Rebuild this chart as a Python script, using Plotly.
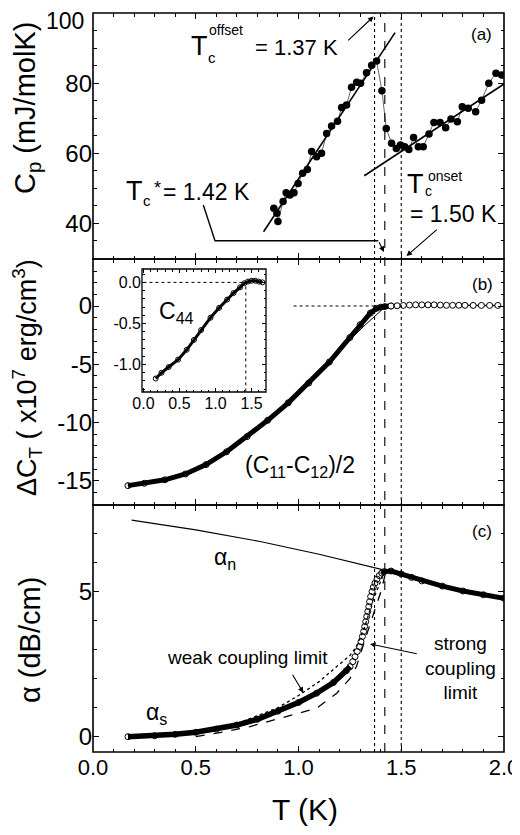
import numpy as np
import plotly.graph_objects as go

# ---------------- data ----------------
# (a) specific heat
CP_T = [0.88, 0.895, 0.90, 0.925, 0.94, 0.958, 0.978, 0.998, 1.02, 1.043, 1.064, 1.088, 1.112,
        1.137, 1.161, 1.19, 1.21, 1.234, 1.258, 1.283, 1.302, 1.331, 1.356, 1.38, 1.406, 1.427,
        1.453, 1.476, 1.496, 1.517, 1.537, 1.56, 1.583, 1.607, 1.635, 1.659, 1.689, 1.716, 1.742,
        1.773, 1.797, 1.826, 1.862, 1.891, 1.926, 1.961, 1.989]
CP_VAL = [44.3, 42.9, 40.5, 46.2, 48.7, 48.1, 48.7, 51.4, 54.3, 55.4, 60.5, 59.0, 60.0,
          65.7, 67.8, 69.2, 73.1, 73.8, 78.9, 80.3, 80.0, 83.0, 85.2, 86.4, 77.9, 67.1,
          62.9, 61.4, 62.4, 61.9, 61.1, 64.5, 61.9, 61.9, 65.5, 68.8, 68.8, 67.3, 69.8,
          69.0, 73.3, 72.9, 71.9, 75.2, 80.0, 82.9, 82.4]
FIT_SC_T = [0.83, 1.47]
FIT_SC_VAL = [37.6, 94.5]
FIT_N_T = [1.32, 2.0]
FIT_N_VAL = [53.6, 79.8]

# characteristic temperatures
TC_OFFSET = 1.37
TC_STAR = 1.42
TC_ONSET = 1.50

# (b) (C11-C12)/2
CT_T = [0.17, 0.25, 0.35, 0.45, 0.55, 0.65, 0.75, 0.85, 0.95, 1.05, 1.15, 1.25, 1.30, 1.35,
        1.38, 1.40, 1.42, 1.45]
CT_VAL = [-15.4, -15.2, -14.9, -14.4, -13.6, -12.5, -11.2, -9.8, -8.3, -6.6, -4.8, -2.7, -1.6,
          -0.6, -0.2, -0.1, -0.05, 0.0]
CT_FLAT_T = [1.45, 1.48, 1.51, 1.54, 1.57, 1.60, 1.63, 1.66, 1.69, 1.72, 1.75, 1.78, 1.81,
             1.85, 1.89, 1.93, 1.97]
CT_FLAT_VAL = [0.0, 0.02, 0.05, 0.08, 0.1, 0.1, 0.1, 0.1, 0.08, 0.06, 0.06, 0.06, 0.06,
               0.05, 0.05, 0.05, 0.05]
CT_THEORY_T = [1.15, 1.25, 1.324, 1.38, 1.405, 1.43, 1.47]
CT_THEORY_VAL = [-4.9, -2.9, -1.63, -0.77, -0.34, -0.05, 0.0]
CT_GUIDE_T = [0.976, 1.40]
CT_GUIDE_VAL = [0.0, 0.0]

# inset C44
C44_T = [0.17, 0.25, 0.35, 0.48, 0.6, 0.7, 0.8, 0.93, 1.05, 1.16, 1.25, 1.34, 1.40, 1.45,
         1.5, 1.55, 1.6, 1.65]
C44_VAL = [-1.17, -1.10, -1.03, -0.94, -0.82, -0.70, -0.58, -0.43, -0.31, -0.21, -0.13, -0.06,
           -0.01, 0.01, 0.02, 0.02, 0.01, 0.0]
C44_TC = 1.42

# (c) attenuation
AN_T = [0.188, 0.5, 0.813, 1.1, 1.413]
AN_VAL = [7.48, 7.14, 6.74, 6.3, 5.76]
AS_T = [0.17, 0.3, 0.4, 0.5, 0.6, 0.7, 0.8, 0.9, 1.0, 1.088, 1.17, 1.233,
        1.251, 1.264, 1.275, 1.286, 1.296, 1.304, 1.311, 1.317, 1.322, 1.327, 1.332, 1.337,
        1.342, 1.346, 1.351, 1.358, 1.364, 1.372, 1.382, 1.393, 1.405, 1.418,
        1.45, 1.5, 1.55, 1.6, 1.7, 1.8, 1.9, 2.0]
AS_VAL = [0.0, 0.03, 0.08, 0.15, 0.26, 0.4, 0.6, 0.88, 1.18, 1.5, 1.87, 2.28,
          2.42, 2.59, 2.76, 2.94, 3.11, 3.28, 3.46, 3.63, 3.80, 3.97, 4.15, 4.32,
          4.49, 4.66, 4.84, 5.01, 5.16, 5.30, 5.44, 5.56, 5.65, 5.70,
          5.72, 5.62, 5.5, 5.38, 5.2, 5.03, 4.9, 4.78]
WEAK_T = [0.3, 0.5, 0.7, 0.9, 1.0, 1.1, 1.186, 1.25, 1.282, 1.323, 1.363, 1.404, 1.42]
WEAK_VAL = [0.0, 0.12, 0.45, 1.0, 1.42, 1.9, 2.42, 2.8, 3.1, 3.8, 4.72, 5.41, 5.72]
STRONG_T = [0.5, 0.65, 0.764, 0.9, 1.0, 1.088, 1.186, 1.25, 1.282, 1.323, 1.372, 1.404, 1.425]
STRONG_VAL = [0.0, 0.18, 0.35, 0.6, 0.81, 0.98, 1.5, 2.0, 2.42, 3.34, 4.38, 5.07, 5.7]

X_TICKS = [0.0, 0.5, 1.0, 1.5, 2.0]
X_TICKTEXT = ["0.0", "0.5", "1.0", "1.5", "2.0"]
YA_TICKS = [40, 60, 80, 100]
YA_TICKTEXT = ["40", "60", "80", ""]   # "100" is placed separately just below the frame top
YA_TOP_LABEL = "100"
YB_TICKS = [-15, -10, -5, 0]
YB_TICKTEXT = ["-15", "-10", "-5", "0"]
YC_TICKS = [0, 5]
YC_TICKTEXT = ["0", "5"]

# ---------------- layout helpers ----------------
# the page body has an 8px margin, so the figure is drawn 8px smaller and
# all target positions below are given in page pixels
OFF = 8
W, H = 520 - OFF, 835 - OFF
L, R, T, B = 93 - OFF, 16, 13 - OFF, 83
PW, PH = W - L - R, H - T - B
FONT = "Liberation Sans, Arial, Helvetica, sans-serif"


def P(px, py):
    return (px - OFF - L) / PW, (H - B - (py - OFF)) / PH


fig = go.Figure()
blk = "black"

# (a)
fig.add_trace(go.Scatter(x=CP_T, y=CP_VAL, mode="lines+markers", xaxis="x", yaxis="y",
                         line=dict(color=blk, width=0.6),
                         marker=dict(symbol="circle", size=7.5, color=blk)))
fig.add_trace(go.Scatter(x=FIT_SC_T, y=FIT_SC_VAL, mode="lines", xaxis="x", yaxis="y",
                         line=dict(color=blk, width=1.6)))
fig.add_trace(go.Scatter(x=FIT_N_T, y=FIT_N_VAL, mode="lines", xaxis="x", yaxis="y",
                         line=dict(color=blk, width=1.6)))

# (b)
fig.add_trace(go.Scatter(x=CT_GUIDE_T, y=CT_GUIDE_VAL, mode="lines", xaxis="x2", yaxis="y2",
                         line=dict(color=blk, width=1.2, dash="dot")))
fig.add_trace(go.Scatter(x=CT_T, y=CT_VAL, mode="lines+markers", xaxis="x2", yaxis="y2",
                         line=dict(color=blk, width=5),
                         marker=dict(symbol="circle-open", size=6, color=blk)))
fig.add_trace(go.Scatter(x=CT_THEORY_T, y=CT_THEORY_VAL, mode="lines", xaxis="x2", yaxis="y2",
                         line=dict(color=blk, width=1)))
fig.add_trace(go.Scatter(x=CT_FLAT_T, y=CT_FLAT_VAL, mode="lines+markers", xaxis="x2", yaxis="y2",
                         line=dict(color=blk, width=1.5),
                         marker=dict(symbol="circle", size=6, color="white",
                                     line=dict(color=blk, width=1))))

# inset
fig.add_trace(go.Scatter(x=[0, C44_TC], y=[0, 0], mode="lines", xaxis="x4", yaxis="y4",
                         line=dict(color=blk, width=1, dash="dot")))
fig.add_trace(go.Scatter(x=[C44_TC, C44_TC], y=[-1.4, 0], mode="lines", xaxis="x4", yaxis="y4",
                         line=dict(color=blk, width=1, dash="dot")))
fig.add_trace(go.Scatter(x=C44_T, y=C44_VAL, mode="lines+markers", xaxis="x4", yaxis="y4",
                         line=dict(color=blk, width=3),
                         marker=dict(symbol="circle-open", size=5, color=blk)))

# (c)
AS_T_arr = np.array(AS_T)
AS_V_arr = np.array(AS_VAL)
low = AS_T_arr <= 1.26
high = AS_T_arr >= 1.405
fig.add_trace(go.Scatter(x=AN_T, y=AN_VAL, mode="lines", xaxis="x3", yaxis="y3",
                         line=dict(color=blk, width=1.2)))
fig.add_trace(go.Scatter(x=WEAK_T, y=WEAK_VAL, mode="lines", xaxis="x3", yaxis="y3",
                         line=dict(color=blk, width=1.3, dash="dot")))
fig.add_trace(go.Scatter(x=STRONG_T, y=STRONG_VAL, mode="lines", xaxis="x3", yaxis="y3",
                         line=dict(color=blk, width=1.3, dash="dash")))
fig.add_trace(go.Scatter(x=AS_T_arr[low], y=AS_V_arr[low], mode="lines", xaxis="x3", yaxis="y3",
                         line=dict(color=blk, width=5.5)))
fig.add_trace(go.Scatter(x=AS_T_arr[high], y=AS_V_arr[high], mode="lines", xaxis="x3", yaxis="y3",
                         line=dict(color=blk, width=5)))
fig.add_trace(go.Scatter(x=AS_T, y=AS_VAL, mode="markers", xaxis="x3", yaxis="y3",
                         marker=dict(symbol="circle-open", size=6, color=blk, line=dict(width=1))))

# vertical Tc lines through all panels
for tc, dash in [(TC_OFFSET, "dot"), (TC_STAR, "dash"), (TC_ONSET, "dot")]:
    fig.add_shape(type="line", xref="x", yref="paper", x0=tc, x1=tc, y0=0, y1=1,
                  line=dict(color=blk, width=1.1, dash=dash))

# axes (frames are drawn as shapes so adjacent panels share one line)
common = dict(showline=False, mirror="allticks", ticks="inside", ticklabeloverflow="allow",
              ticklen=6, tickwidth=1.2, tickcolor=blk, showgrid=False, zeroline=False)
xtickfont = dict(family=FONT, size=22, color=blk)
ytickfont = dict(family=FONT, size=24, color=blk)
xcommon = dict(common, range=[0, 2.0], tickvals=X_TICKS, ticktext=X_TICKTEXT,
               minor=dict(ticks="inside", dtick=0.1, ticklen=3.5, tickwidth=1, tickcolor=blk))
ya = P(0, 259)[1]
yb = P(0, 505)[1]
fig.update_layout(
    xaxis=dict(xcommon, anchor="y", showticklabels=False),
    xaxis2=dict(xcommon, anchor="y2", showticklabels=False, matches="x"),
    xaxis3=dict(xcommon, anchor="y3", showticklabels=True, matches="x", tickfont=xtickfont),
    yaxis=dict(common, domain=[ya, 1], anchor="x", range=[29.8, 100.1],
               tickvals=YA_TICKS, ticktext=YA_TICKTEXT, tickfont=ytickfont,
               minor=dict(ticks="inside", dtick=5, ticklen=3.5, tickwidth=1, tickcolor=blk)),
    yaxis2=dict(common, domain=[yb, ya], anchor="x2", range=[-17.06, 4.03],
                tickvals=YB_TICKS, ticktext=YB_TICKTEXT, tickfont=ytickfont,
                minor=dict(ticks="inside", dtick=1, ticklen=3.5, tickwidth=1, tickcolor=blk)),
    yaxis3=dict(common, domain=[0, yb], anchor="x3", range=[-0.53, 8.0],
                tickvals=YC_TICKS, ticktext=YC_TICKTEXT, tickfont=ytickfont,
                minor=dict(ticks="inside", dtick=1, ticklen=3.5, tickwidth=1, tickcolor=blk)),
)
ix0, iy1 = P(142, 269)
ix1, iy0 = P(266, 392)
inset_tf = dict(family=FONT, size=16, color=blk)
fig.update_layout(
    xaxis4=dict(common, domain=[ix0, ix1], anchor="y4", range=[-0.02, 1.7],
                tickvals=[0, 0.5, 1.0, 1.5], ticktext=["0.0", "0.5", "1.0", "1.5"],
                tickfont=inset_tf, ticklen=4,
                minor=dict(ticks="inside", dtick=0.1, ticklen=2.5, tickwidth=1, tickcolor=blk)),
    yaxis4=dict(common, domain=[iy0, iy1], anchor="x4", range=[-1.334, 0.163],
                tickvals=[-1.0, -0.5, 0.0], ticktext=["-1.0", "-0.5", "0.0"],
                tickfont=inset_tf, ticklen=4,
                minor=dict(ticks="inside", dtick=0.1, ticklen=2.5, tickwidth=1, tickcolor=blk)),
)
# inset background and frames
fig.add_shape(type="rect", xref="paper", yref="paper", x0=ix0, x1=ix1, y0=iy0, y1=iy1,
              fillcolor="white", line=dict(width=0), layer="below")
for (y0, y1) in [(ya, 1), (yb, ya), (0, yb)]:
    fig.add_shape(type="rect", xref="paper", yref="paper", x0=0, x1=1, y0=y0, y1=y1,
                  line=dict(color=blk, width=1.6))
fig.add_shape(type="rect", xref="paper", yref="paper", x0=ix0, x1=ix1, y0=iy0, y1=iy1,
              line=dict(color=blk, width=1.3))

annotations = []


def txt(text, px, py, size, xanchor="center", yanchor="middle", angle=0):
    x, y = P(px, py)
    annotations.append(dict(text=text, x=x, y=y, xref="paper", yref="paper",
                            xanchor=xanchor, yanchor=yanchor, showarrow=False,
                            borderpad=0, borderwidth=0,
                            textangle=angle, font=dict(family=FONT, size=size, color=blk)))


def base(text, px, baseline, size, xanchor="center"):
    # place text so that its baseline sits at pixel row `baseline`
    txt(text, px, baseline - 0.3465 * size, size, xanchor=xanchor)


def arrow(tail, tip):
    x, y = P(*tip)
    annotations.append(dict(text="", x=x, y=y, xref="paper", yref="paper",
                            ax=tail[0] - tip[0], ay=tail[1] - tip[1], showarrow=True,
                            arrowhead=2, arrowsize=1, arrowwidth=1.1, arrowcolor=blk))


# top tick label of panel (a), kept fully inside the page
txt(YA_TOP_LABEL, 84, 21, 23, xanchor="right")

# axis titles
txt("C<sub>p</sub> (mJ/molK)", 27, 108, 29, angle=-90)
txt("ΔC<sub>T</sub> ( x10<sup>7</sup> erg/cm<sup>3</sup>)", 27, 378, 27, angle=-90)
txt("α (dB/cm)", 30, 640, 29, angle=-90)
txt("T (K)", 305, 809, 30)

# panel (a) texts
base("T", 199.5, 55, 27)
base("c", 212, 63, 15)
base("offset", 209, 35, 14, xanchor="left")
base("= 1.37 K", 255, 55, 22, xanchor="left")

base("T", 134, 200, 27)
base("c", 146.5, 206, 15)
base("*", 157, 194, 18)
base("= 1.42 K", 163, 200, 23, xanchor="left")

base("T", 415.5, 193, 27)
base("c", 428.5, 196, 14)
base("onset", 428, 181, 14, xanchor="left")
base("= 1.50 K", 410, 222, 23, xanchor="left")
txt("(a)", 481, 34, 17)
arrow((346.7, 41.7), (373.5, 16.5))
arrow((438.3, 228.3), (406.5, 256))

# T_c* bracket line
p0, p1, p2 = P(203.3, 205), P(215, 240.7), P(378.3, 240.7)
fig.add_shape(type="path", xref="paper", yref="paper",
              path=f"M {p0[0]} {p0[1]} L {p1[0]} {p1[1]} L {p2[0]} {p2[1]}",
              line=dict(color=blk, width=1.4))
arrow((378.3, 240.7), (384, 252))

# panel (b) texts
txt("(b)", 482, 284, 17)
txt("(C<sub>11</sub>-C<sub>12</sub>)/2", 300, 466, 23)
txt("C<sub>44</sub>", 176, 312, 23)

# panel (c) texts
txt("(c)", 482, 531, 17)
txt("α<sub>n</sub>", 225, 558, 23)
txt("α<sub>s</sub>", 156, 713, 23)
txt("weak coupling limit", 167, 657, 19, xanchor="left")
txt("strong<br>coupling<br>limit", 425, 668, 19, xanchor="left")
arrow((291.7, 673.3), (303.3, 692.7))
arrow((418.3, 654), (370, 644))

fig.update_layout(
    width=W, height=H, margin=dict(l=L, r=R, t=T, b=B, autoexpand=False),
    paper_bgcolor="white", plot_bgcolor="white", showlegend=False,
    font=dict(family=FONT, color=blk), annotations=annotations,
)
fig.write_html("out.html")
